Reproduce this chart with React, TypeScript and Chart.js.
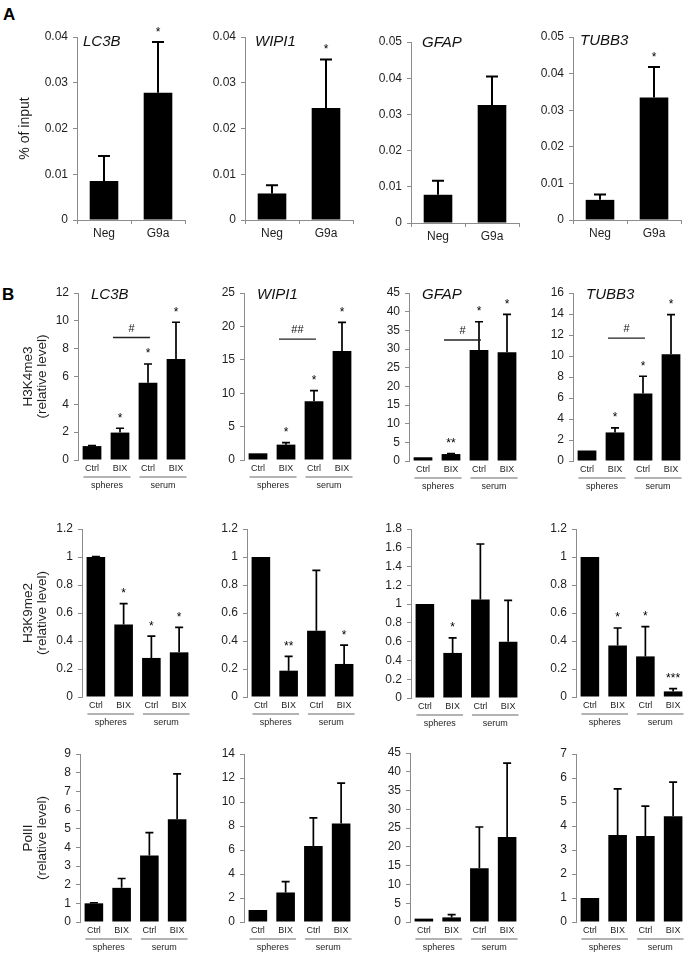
import React, { useEffect, useRef } from 'react';
import { Chart, registerables } from 'chart.js';

Chart.register(...registerables);

const FONT = '"Liberation Sans", Arial, Helvetica, sans-serif';
const AXIS = '#8c8c8c';
const TEXT = '#1e1e1e';

// ---------- DATA ----------
const genes = ['LC3B', 'WIPI1', 'GFAP', 'TUBB3'];

// Panel A: G9a ChIP (% of input)
const chipCategories = ['Neg', 'G9a'];
const chipLC3B = [0.0085, 0.0278];
const chipLC3BErr = [0.0055, 0.0111];
const chipWIPI1 = [0.0058, 0.0245];
const chipWIPI1Err = [0.0018, 0.0106];
const chipGFAP = [0.0078, 0.0326];
const chipGFAPErr = [0.0039, 0.0079];
const chipTUBB3 = [0.0055, 0.0335];
const chipTUBB3Err = [0.0015, 0.0083];
const chipStars = [['', '*'], ['', '*'], ['', ''], ['', '*']];
const chipMax = [0.04, 0.04, 0.05, 0.05];
const chipStep = [0.01, 0.01, 0.01, 0.01];

// Panel B
const treatCategories = ['Ctrl', 'BIX', 'Ctrl', 'BIX'];
const conditionGroups = ['spheres', 'serum'];

// H3K4me3
const k4LC3B = [1.0, 1.97, 5.55, 7.25];
const k4LC3BErr = [0.03, 0.31, 1.35, 2.65];
const k4WIPI1 = [1.0, 2.3, 8.8, 16.3];
const k4WIPI1Err = [0, 0.3, 1.6, 4.3];
const k4GFAP = [1.0, 1.86, 29.7, 29.1];
const k4GFAPErr = [0, 0.14, 7.6, 10.2];
const k4TUBB3 = [1.0, 2.72, 6.42, 10.16];
const k4TUBB3Err = [0, 0.44, 1.65, 3.79];
const k4Stars = [['', '*', '*', '*'], ['', '*', '*', '*'], ['', '**', '*', '*'], ['', '*', '*', '*']];
const k4Hash = ['#', '##', '#', '#'];
const k4HashLevel = [8.8, 18.1, 32.4, 11.7];
const k4Max = [12, 25, 45, 16];
const k4Step = [2, 5, 5, 2];

// H3K9me2
const k9LC3B = [1.0, 0.517, 0.279, 0.319];
const k9LC3BErr = [0.003, 0.15, 0.156, 0.179];
const k9WIPI1 = [1.0, 0.188, 0.474, 0.236];
const k9WIPI1Err = [0, 0.102, 0.431, 0.134];
const k9GFAP = [1.0, 0.48, 1.05, 0.6];
const k9GFAPErr = [0, 0.16, 0.59, 0.44];
const k9TUBB3 = [1.0, 0.367, 0.29, 0.04];
const k9TUBB3Err = [0, 0.126, 0.212, 0.02];
const k9Stars = [['', '*', '*', '*'], ['', '**', '', '*'], ['', '*', '', ''], ['', '*', '*', '***']];
const k9Max = [1.2, 1.2, 1.8, 1.2];
const k9Step = [0.2, 0.2, 0.2, 0.2];

// PolII
const polLC3B = [1.0, 1.83, 3.56, 5.5];
const polLC3BErr = [0.03, 0.5, 1.23, 2.43];
const polWIPI1 = [1.0, 2.46, 6.33, 8.2];
const polWIPI1Err = [0, 0.91, 2.34, 3.37];
const polGFAP = [0.9, 1.23, 14.3, 22.6];
const polGFAPErr = [0, 0.71, 11.0, 19.7];
const polTUBB3 = [1.0, 3.62, 3.58, 4.41];
const polTUBB3Err = [0, 1.93, 1.25, 1.42];
const polMax = [9, 14, 45, 7];
const polStep = [1, 2, 5, 1];

const yTitleA = ['% of input'];
const yTitleK4 = ['H3K4me3', '(relative level)'];
const yTitleK9 = ['H3K9me2', '(relative level)'];
const yTitlePol = ['PolII', '(relative level)'];

// ---------- LAYOUT ----------
type RowLayout = {
  lefts: number[];
  width: number;
  tops: number[];
  bottoms: number[];
  titleDx: number[];
  titleDy: number[];
};
const LAYOUT_A: RowLayout = { lefts: [77, 245, 411, 573], width: 108, tops: [37, 37, 42, 37], bottoms: [220, 220, 223, 220], titleDx: [6, 10, 11, 7], titleDy: [5, 5, 1, 4] };
const LAYOUT_B1: RowLayout = { lefts: [78, 244, 409, 573], width: 112, tops: [293, 293, 293, 293], bottoms: [460, 460, 461, 461], titleDx: [13, 13, 13, 13], titleDy: [2, 2, 2, 2] };
const LAYOUT_B2: RowLayout = { lefts: [82, 247, 411, 576], width: 111, tops: [529, 529, 529, 529], bottoms: [697, 697, 698, 697], titleDx: [0, 0, 0, 0], titleDy: [0, 0, 0, 0] };
const LAYOUT_B3: RowLayout = { lefts: [80, 244, 410, 576], width: 111, tops: [754, 754, 753, 754], bottoms: [922, 922, 922, 922], titleDx: [0, 0, 0, 0], titleDy: [0, 0, 0, 0] };

const PAD_L = 78;
const PAD_T = 30;
const PAD_R = 6;
const X_H = 38;
const Y_W = 50;

type PanelCfg = {
  key: string;
  rowA: boolean;
  title: string;
  categories: string[];
  values: number[];
  errs: number[];
  stars: string[];
  max: number;
  step: number;
  l: number; t: number; w: number; b: number;
  titleDx: number; titleDy: number;
  yTitle?: string[];
  yTitleX?: number[];
  yTitleSize?: number;
  hash?: string;
  hashLevel?: number;
  groups?: string[];
};

function buildRow(
  rowKey: string,
  rowA: boolean,
  layout: RowLayout,
  categories: string[],
  vals: number[][],
  errs: number[][],
  stars: string[][],
  maxes: number[],
  steps: number[],
  showTitles: boolean,
  yTitle: string[],
  yTitleX: number[],
  yTitleSize: number,
  hash?: string[],
  hashLevel?: number[],
): PanelCfg[] {
  return genes.map((g, i) => ({
    key: rowKey + g,
    rowA,
    title: showTitles ? g : '',
    categories,
    values: vals[i],
    errs: errs[i],
    stars: stars[i],
    max: maxes[i],
    step: steps[i],
    l: layout.lefts[i], t: layout.tops[i], w: layout.width, b: layout.bottoms[i],
    titleDx: layout.titleDx[i], titleDy: layout.titleDy[i],
    yTitle: i === 0 ? yTitle : undefined,
    yTitleX: yTitleX,
    yTitleSize,
    hash: hash ? hash[i] : undefined,
    hashLevel: hashLevel ? hashLevel[i] : undefined,
    groups: rowA ? undefined : conditionGroups,
  }));
}

const noStars = [['', '', '', ''], ['', '', '', ''], ['', '', '', ''], ['', '', '', '']];

const panels: PanelCfg[] = [
  ...buildRow('A', true, LAYOUT_A, chipCategories,
    [chipLC3B, chipWIPI1, chipGFAP, chipTUBB3],
    [chipLC3BErr, chipWIPI1Err, chipGFAPErr, chipTUBB3Err],
    chipStars, chipMax, chipStep, true, yTitleA, [25], 14),
  ...buildRow('K4', false, LAYOUT_B1, treatCategories,
    [k4LC3B, k4WIPI1, k4GFAP, k4TUBB3],
    [k4LC3BErr, k4WIPI1Err, k4GFAPErr, k4TUBB3Err],
    k4Stars, k4Max, k4Step, true, yTitleK4, [28, 42], 13.5, k4Hash, k4HashLevel),
  ...buildRow('K9', false, LAYOUT_B2, treatCategories,
    [k9LC3B, k9WIPI1, k9GFAP, k9TUBB3],
    [k9LC3BErr, k9WIPI1Err, k9GFAPErr, k9TUBB3Err],
    k9Stars, k9Max, k9Step, false, yTitleK9, [28, 42], 13.5),
  ...buildRow('POL', false, LAYOUT_B3, treatCategories,
    [polLC3B, polWIPI1, polGFAP, polTUBB3],
    [polLC3BErr, polWIPI1Err, polGFAPErr, polTUBB3Err],
    noStars, polMax, polStep, false, yTitlePol, [28, 42], 13.5),
];

function fmtTick(v: number | string) {
  return String(parseFloat(Number(v).toFixed(4)));
}

function makePlugin(cfg: PanelCfg, canvasLeft: number) {
  return {
    id: 'annot' + cfg.key,
    afterDatasetsDraw(chart: any) {
      const ctx = chart.ctx as CanvasRenderingContext2D;
      const ys = chart.scales.y;
      const xs = chart.scales.x;
      const meta = chart.getDatasetMeta(0);
      const capHalf = cfg.rowA ? 6 : 4;
      ctx.save();
      meta.data.forEach((el: any, i: number) => {
        const v = cfg.values[i];
        const e = cfg.errs[i];
        const x = el.x;
        const yTop = ys.getPixelForValue(v);
        const yCap = ys.getPixelForValue(v + e);
        if (e > 0) {
          ctx.strokeStyle = '#000';
          ctx.lineWidth = cfg.rowA ? 2 : 1.7;
          ctx.beginPath();
          ctx.moveTo(x, yTop);
          ctx.lineTo(x, yCap);
          ctx.moveTo(x - capHalf, yCap);
          ctx.lineTo(x + capHalf, yCap);
          ctx.stroke();
        }
        if (cfg.stars[i]) {
          ctx.fillStyle = '#000';
          ctx.font = `12px ${FONT}`;
          ctx.textAlign = 'center';
          ctx.textBaseline = 'alphabetic';
          ctx.fillText(cfg.stars[i], x, yCap - 6.5);
        }
      });
      if (cfg.hash && cfg.hashLevel !== undefined) {
        const x1 = xs.getPixelForValue(1);
        const x2 = xs.getPixelForValue(2);
        const cw = x2 - x1;
        const hy = ys.getPixelForValue(cfg.hashLevel);
        const a = x1 - 0.25 * cw;
        const bb = x2 + 0.07 * cw;
        ctx.strokeStyle = '#222';
        ctx.lineWidth = 1.4;
        ctx.beginPath();
        ctx.moveTo(a, hy);
        ctx.lineTo(bb, hy);
        ctx.stroke();
        ctx.fillStyle = '#111';
        ctx.font = `11px ${FONT}`;
        ctx.textAlign = 'center';
        ctx.textBaseline = 'alphabetic';
        ctx.fillText(cfg.hash, (a + bb) / 2, hy - 5.7);
      }
      ctx.restore();
    },
    afterDraw(chart: any) {
      const ctx = chart.ctx as CanvasRenderingContext2D;
      const area = chart.chartArea;
      const xs = chart.scales.x;
      ctx.save();
      if (cfg.title) {
        ctx.fillStyle = '#111';
        ctx.font = `italic 15px ${FONT}`;
        ctx.textAlign = 'left';
        ctx.textBaseline = 'middle';
        ctx.fillText(cfg.title, area.left + cfg.titleDx, area.top + cfg.titleDy);
      }
      if (cfg.yTitle && cfg.yTitleX) {
        ctx.fillStyle = TEXT;
        ctx.font = `${cfg.yTitleSize}px ${FONT}`;
        ctx.textAlign = 'center';
        ctx.textBaseline = 'middle';
        const cy = (area.top + area.bottom) / 2;
        cfg.yTitle.forEach((line, k) => {
          ctx.save();
          ctx.translate(cfg.yTitleX![k] - canvasLeft, cy);
          ctx.rotate(-Math.PI / 2);
          ctx.fillText(line, 0, 0);
          ctx.restore();
        });
      }
      if (cfg.groups) {
        cfg.groups.forEach((g, gi) => {
          const x0 = xs.getPixelForValue(gi * 2);
          const x1 = xs.getPixelForValue(gi * 2 + 1);
          const cw = x1 - x0;
          const cx = (x0 + x1) / 2 + 1;
          const half = 0.84 * cw;
          const ly = area.bottom + 17;
          ctx.strokeStyle = '#9a9a9a';
          ctx.lineWidth = 1.5;
          ctx.beginPath();
          ctx.moveTo(cx - half, ly);
          ctx.lineTo(cx + half, ly);
          ctx.stroke();
          ctx.fillStyle = TEXT;
          ctx.font = `9px ${FONT}`;
          ctx.textAlign = 'center';
          ctx.textBaseline = 'middle';
          ctx.fillText(g, cx, area.bottom + 26);
        });
      }
      ctx.restore();
    },
  };
}

function Panel({ cfg }: { cfg: PanelCfg }) {
  const ref = useRef<HTMLCanvasElement>(null);
  const canvasLeft = cfg.l - PAD_L;
  const canvasTop = cfg.t - PAD_T;
  const cw = cfg.w + PAD_L + PAD_R;
  const ch = cfg.b - cfg.t + PAD_T + X_H;

  useEffect(() => {
    if (!ref.current) return;
    const chart = new Chart(ref.current, {
      type: 'bar',
      data: {
        labels: cfg.categories,
        datasets: [
          {
            data: cfg.values,
            backgroundColor: '#000',
            borderWidth: 0,
            barPercentage: cfg.rowA ? 0.53 : 0.67,
            categoryPercentage: 1,
          },
        ],
      },
      options: {
        animation: false,
        responsive: false,
        maintainAspectRatio: false,
        devicePixelRatio: 1,
        layout: { padding: { left: PAD_L - Y_W, top: PAD_T, right: PAD_R, bottom: 0 } },
        plugins: {
          legend: { display: false },
          tooltip: { enabled: false },
          title: { display: false },
        },
        scales: {
          x: {
            type: 'category',
            offset: true,
            grid: {
              display: cfg.rowA,
              drawOnChartArea: false,
              drawTicks: cfg.rowA,
              tickLength: 4,
              color: AXIS,
              offset: true,
            },
            border: { display: cfg.rowA, color: AXIS, width: 1 },
            ticks: {
              color: TEXT,
              font: { family: FONT, size: cfg.rowA ? 12 : 9 },
              padding: cfg.rowA ? 2 : 3,
              maxRotation: 0,
              minRotation: 0,
              autoSkip: false,
            },
            afterFit: (s: any) => {
              s.height = X_H;
            },
          },
          y: {
            type: 'linear',
            min: 0,
            max: cfg.max,
            grace: 0,
            grid: {
              display: true,
              drawOnChartArea: false,
              drawTicks: true,
              tickLength: 4,
              color: AXIS,
            },
            border: { display: true, color: AXIS, width: 1 },
            ticks: {
              stepSize: cfg.step,
              color: TEXT,
              font: { family: FONT, size: 12 },
              padding: 5,
              callback: (v: any) => fmtTick(v),
            },
            afterFit: (s: any) => {
              s.width = Y_W;
            },
          },
        },
      },
      plugins: [makePlugin(cfg, canvasLeft)],
    } as any);
    return () => chart.destroy();
  }, []);

  return (
    <canvas
      ref={ref}
      width={cw}
      height={ch}
      style={{ position: 'absolute', left: canvasLeft, top: canvasTop, width: cw, height: ch }}
    />
  );
}

export default function App() {
  return (
    <div
      style={{
        position: 'absolute',
        left: 0,
        top: 0,
        width: 685,
        height: 955,
        overflow: 'hidden',
        background: '#fff',
        fontFamily: FONT,
      }}
    >
      <div style={{ position: 'absolute', left: 3, top: 5, fontSize: 17, fontWeight: 'bold', lineHeight: '20px', color: '#000' }}>A</div>
      <div style={{ position: 'absolute', left: 2, top: 285, fontSize: 17, fontWeight: 'bold', lineHeight: '20px', color: '#000' }}>B</div>
      {panels.map((p) => (
        <Panel key={p.key} cfg={p} />
      ))}
    </div>
  );
}
